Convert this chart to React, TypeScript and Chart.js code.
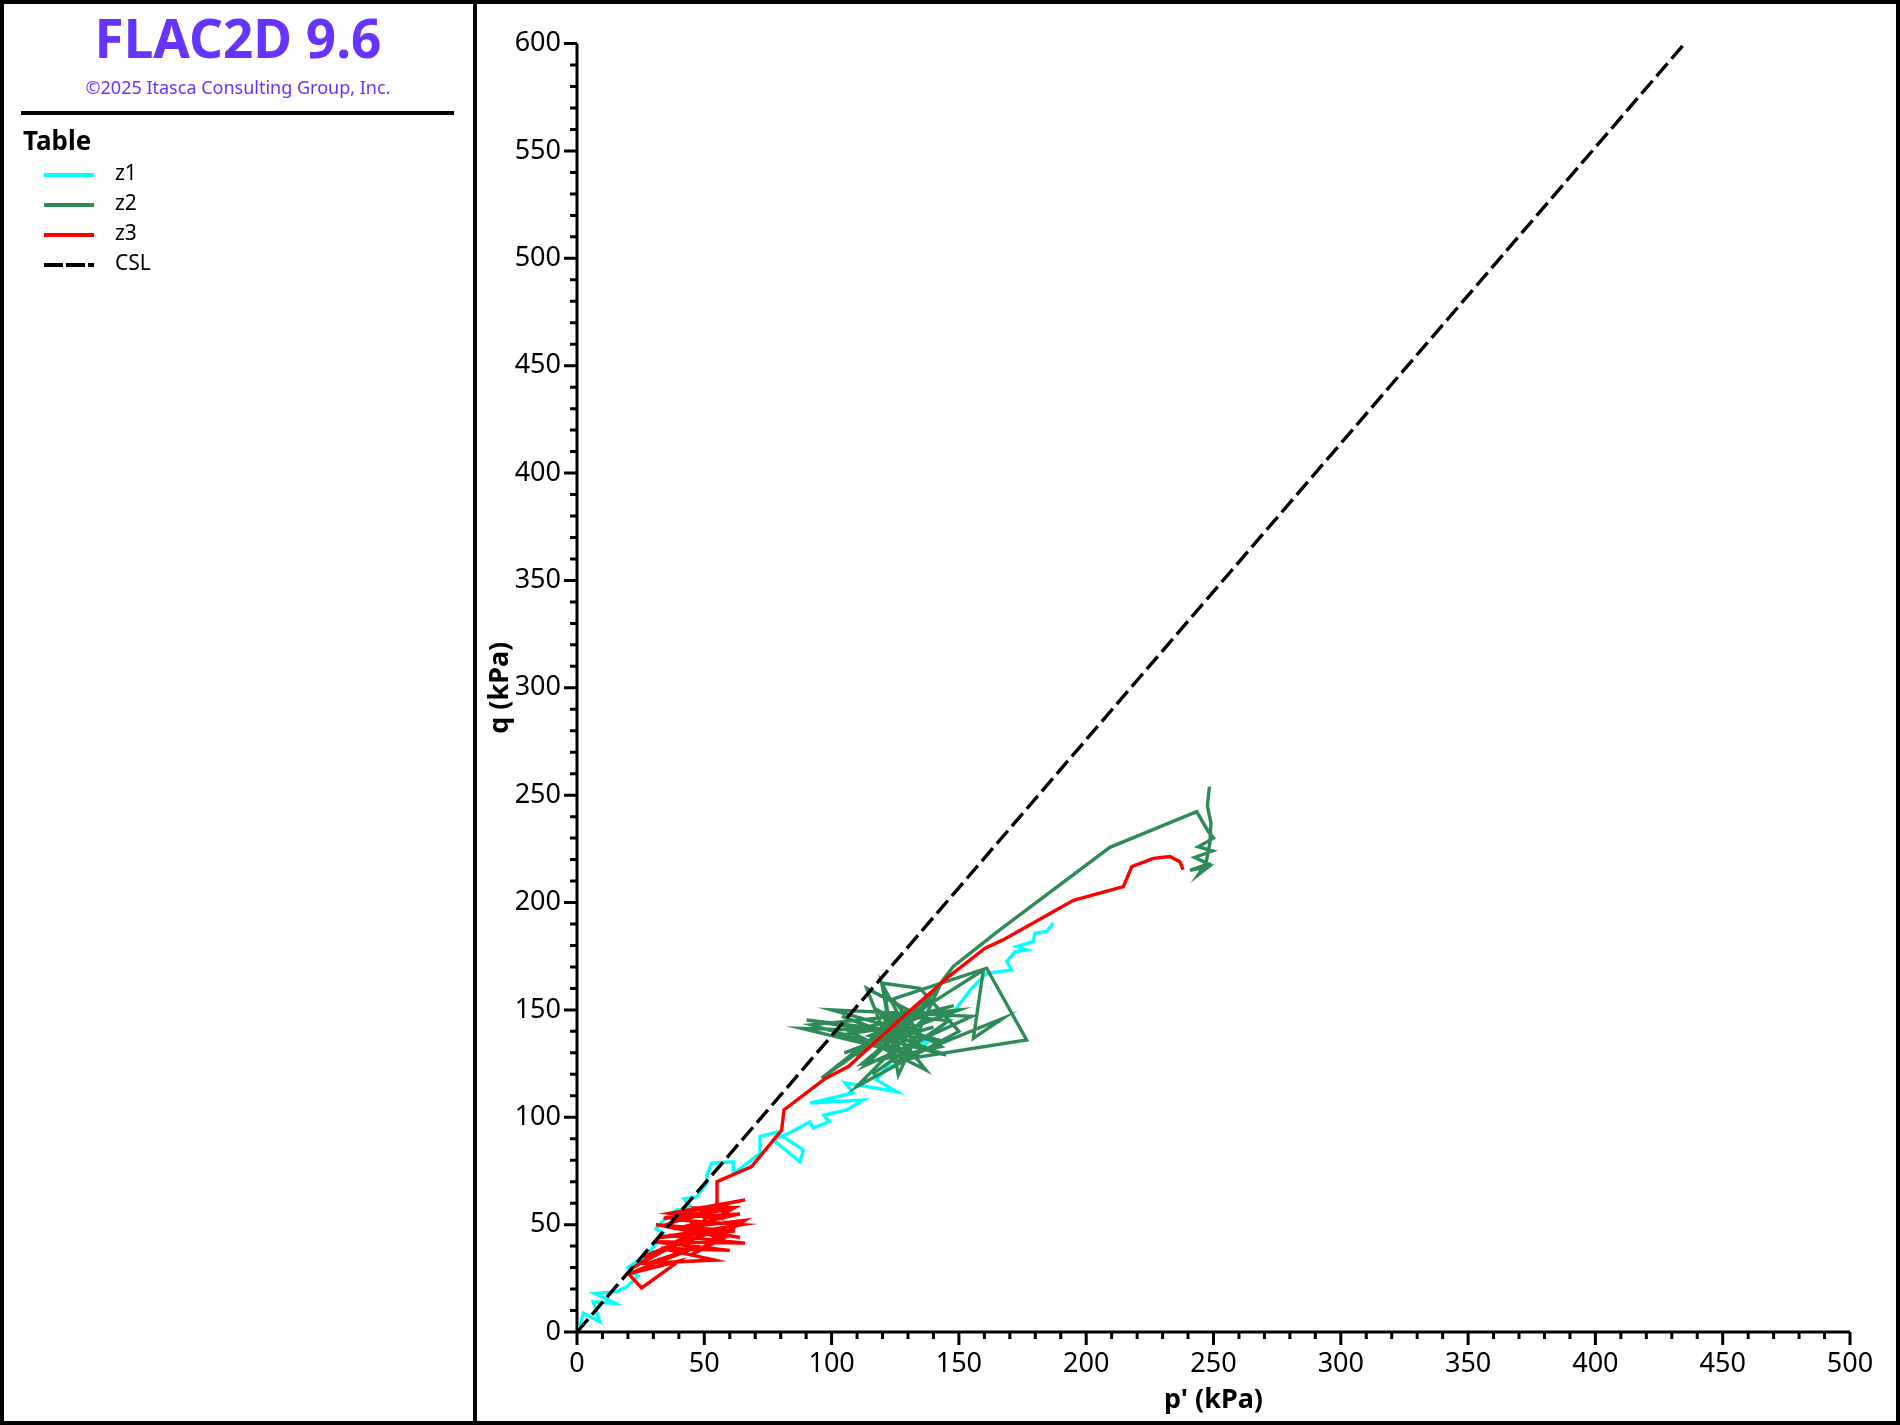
import React, { useEffect, useRef } from "react";
import { Chart, registerables } from "chart.js";
Chart.register(...registerables);

// ---- Data (p' , q in kPa) ----
const pTickValues = [0, 50, 100, 150, 200, 250, 300, 350, 400, 450, 500];
const qTickValues = [0, 50, 100, 150, 200, 250, 300, 350, 400, 450, 500, 550, 600];

const z1P = [1, 2.5, 9, 6.4, 14.9, 7, 15.6, 19.5, 24, 20, 30, 27, 34, 31, 36, 39, 45, 42, 47, 51, 51, 52.9, 61.4, 61.4, 71.9, 71.9, 78.4, 88.9, 87.6, 77.1, 84, 91.5, 92.7, 99, 97, 105.9, 112.3, 91.5, 108.4, 105.3, 125.6, 117.7, 121.6, 132, 138.6, 129.5, 142, 150.4, 155, 160.9, 166.1, 170.7, 168.8, 172, 176.6, 172.7, 179.2, 179.9, 184.5, 187.1];
const z1Q = [2, 8.7, 4.8, 14, 13.4, 18, 18.8, 21, 26, 30, 38, 35, 46, 48, 54.5, 56.8, 58, 62, 63, 69.3, 73, 78.6, 79.3, 73.7, 83.2, 91, 93, 84.8, 79.3, 89.4, 93, 97.9, 95, 98, 101, 103.4, 108, 106.6, 111.3, 116, 111.9, 117.4, 123, 128, 136, 132.9, 140, 153, 160, 167, 167.8, 168.6, 172.5, 177, 177.9, 179.5, 181.8, 185.7, 186.5, 190.4];

const z2P = [118, 140, 105, 150, 92, 135, 88.3, 128, 90.2, 145, 100, 155, 113, 140, 96.1, 130, 113.8, 125, 120.3, 134.7, 150, 109.9, 138, 115, 145, 104, 132, 119.7, 126.2, 142, 110, 125, 148, 107, 137, 118, 143, 112, 130, 102, 127, 121, 146, 116, 136, 124, 160.9, 176.6, 126.9, 167.4, 155.7, 159.6, 135, 122, 147.8, 165.8, 209.3, 243.4, 248, 250, 244, 249.6, 242.6, 248, 240.8, 248, 244, 247, 248.6, 249, 247.6, 248.4];
const z2Q = [135, 142, 130, 150, 143, 128, 141.4, 140, 145.3, 135, 150, 147, 124, 155, 118.2, 150, 160, 126, 162.4, 160, 140, 114.3, 148, 138, 129, 147, 135, 162.4, 119.7, 160, 128, 145, 152, 140, 122, 150, 133, 125, 143, 138, 131, 148, 145, 120, 137, 155, 169.4, 136, 126.7, 146.1, 136.8, 168.6, 150, 130, 170.2, 187, 225.7, 242.3, 233, 230, 226, 224, 221, 218, 215, 216.6, 212.9, 218, 228, 237, 245, 254];

const z3P = [19.5, 25.4, 40, 20, 48, 28, 54, 33, 60, 30, 66, 36, 62, 31, 58, 45, 66, 38, 64, 34, 60, 22, 44, 26, 52, 32, 65, 42, 60, 35, 64, 50, 57, 40, 66, 36.5, 55, 47, 62, 48, 55, 55, 68.6, 80.4, 81.3, 97.4, 106.6, 128.2, 146.5, 160.3, 167.3, 195, 214.6, 217.9, 226.4, 232.9, 236.8, 238.1];
const z3Q = [28, 20.5, 33, 27, 40, 32, 33.5, 39, 38, 42, 41.4, 45, 47, 50, 44, 36, 52, 48, 55, 53, 57, 30, 44, 35, 46, 44, 50, 52, 60, 50, 44, 47, 42, 55, 61.5, 55.3, 53, 57.8, 58, 49, 60, 70, 77, 94, 103.4, 118, 123.6, 146.9, 166, 178.7, 182.6, 201, 207.4, 216.7, 220.6, 221.4, 219, 215.2];

const cslP = [0, 435];
const cslQ = [0, 600];

const seriesNames = ["z1", "z2", "z3", "CSL"];
const seriesColors = ["#00FFFF", "#2E8B57", "#FF0000", "#000000"];

const toPoints = (ps: number[], qs: number[]) => ps.map((p, i) => ({ x: p, y: qs[i] }));

const FONT = "'Noto Sans', 'Open Sans', sans-serif";

const axesPlugin = {
  id: "flacAxes",
  beforeDatasetsDraw(chart: any) {
    const { ctx, chartArea, scales } = chart;
    const { left, right, top, bottom } = chartArea;
    const xs = scales.x;
    const ys = scales.y;
    ctx.save();
    ctx.strokeStyle = "#000";
    ctx.lineWidth = 3;
    ctx.lineCap = "butt";
    ctx.beginPath();
    ctx.moveTo(left, top);
    ctx.lineTo(left, bottom + 1.5);
    ctx.moveTo(left - 1.5, bottom);
    ctx.lineTo(right, bottom);
    for (let v = xs.min; v <= xs.max + 1e-6; v += 10) {
      const px = xs.getPixelForValue(v);
      const len = Math.abs(v % 50) < 1e-6 ? 13 : 7;
      ctx.moveTo(px, bottom);
      ctx.lineTo(px, bottom + len);
    }
    for (let v = ys.min; v <= ys.max + 1e-6; v += 10) {
      const py = ys.getPixelForValue(v);
      const len = Math.abs(v % 50) < 1e-6 ? 13 : 7;
      ctx.moveTo(left, py);
      ctx.lineTo(left - len, py);
    }
    ctx.stroke();
    ctx.restore();
  },
};

function PlotCanvas() {
  const ref = useRef<HTMLCanvasElement | null>(null);
  useEffect(() => {
    if (!ref.current) return;
    const lineDs = (i: number, ps: number[], qs: number[], order: number, dash: number[] = []) => ({
      label: seriesNames[i],
      data: toPoints(ps, qs),
      showLine: true,
      borderColor: seriesColors[i],
      backgroundColor: seriesColors[i],
      borderWidth: 3.4,
      borderDash: dash,
      pointRadius: 0,
      pointHoverRadius: 0,
      tension: 0,
      fill: false,
      order,
    });
    const chart = new Chart(ref.current, {
      type: "scatter",
      data: {
        datasets: [
          lineDs(0, z1P, z1Q, 4),
          lineDs(1, z2P, z2Q, 3),
          lineDs(2, z3P, z3Q, 2),
          lineDs(3, cslP, cslQ, 1, [17, 6]),
        ],
      },
      options: {
        responsive: false,
        animation: false,
        devicePixelRatio: 1,
        layout: { padding: { left: 480, top: 43.6, right: 50, bottom: 0 } },
        plugins: { legend: { display: false }, tooltip: { enabled: false }, title: { display: false } },
        scales: {
          x: {
            type: "linear",
            min: pTickValues[0],
            max: pTickValues[pTickValues.length - 1],
            afterBuildTicks: (s: any) => { s.ticks = pTickValues.map((v) => ({ value: v })); },
            afterFit: (s: any) => { s.height = 93; },
            grid: { display: false, drawTicks: true, tickLength: 13 },
            border: { display: false },
            ticks: { color: "#000", font: { family: FONT, size: 27 }, padding: 3, maxRotation: 0, autoSkip: false },
            title: { display: true, text: "p' (kPa)", color: "#000", font: { family: FONT, size: 27, weight: "bold" }, padding: { top: 0, bottom: 8 } },
          },
          y: {
            type: "linear",
            min: qTickValues[0],
            max: qTickValues[qTickValues.length - 1],
            afterBuildTicks: (s: any) => { s.ticks = qTickValues.map((v) => ({ value: v })); },
            afterFit: (s: any) => { s.width = 97; },
            grid: { display: false, drawTicks: true, tickLength: 13 },
            border: { display: false },
            ticks: { color: "#000", font: { family: FONT, size: 27 }, padding: 3, autoSkip: false },
            title: { display: true, text: "q (kPa)", color: "#000", font: { family: FONT, size: 27, weight: "bold" }, padding: { top: 4, bottom: 0 } },
          },
        },
      },
      plugins: [axesPlugin],
    } as any);
    return () => chart.destroy();
  }, []);
  return (
    <canvas
      ref={ref}
      width={1900}
      height={1425}
      style={{ position: "absolute", left: 0, top: 0, width: 1900, height: 1425 }}
    />
  );
}

const legendRows = [
  { name: "z1", color: seriesColors[0], dashed: false },
  { name: "z2", color: seriesColors[1], dashed: false },
  { name: "z3", color: seriesColors[2], dashed: false },
  { name: "CSL", color: seriesColors[3], dashed: true },
];

export default function App() {
  useEffect(() => {
    document.body.style.margin = "0";
  }, []);
  const purple = "#6633FF";
  return (
    <div style={{ position: "fixed", left: 0, top: 0, width: 1900, height: 1425, background: "#fff", overflow: "hidden", fontFamily: FONT }}>
      <PlotCanvas />
      {/* frame */}
      <div style={{ position: "absolute", left: 0, top: 0, width: 1900, height: 1425, boxSizing: "border-box", border: "4px solid #000", pointerEvents: "none" }} />
      <div style={{ position: "absolute", left: 473, top: 0, width: 4, height: 1425, background: "#000" }} />
      {/* left panel */}
      <div style={{ position: "absolute", left: 0, top: 11, width: 476, textAlign: "center", fontSize: 53, lineHeight: "53px", fontWeight: 700, color: purple, whiteSpace: "nowrap" }}>
        FLAC2D 9.6
      </div>
      <div style={{ position: "absolute", left: 0, top: 77.5, width: 476, textAlign: "center", fontSize: 18, lineHeight: "18px", color: purple, whiteSpace: "nowrap" }}>
        ©2025 Itasca Consulting Group, Inc.
      </div>
      <div style={{ position: "absolute", left: 21, top: 111, width: 433, height: 4, background: "#000" }} />
      <div style={{ position: "absolute", left: 23, top: 127, fontSize: 26, lineHeight: "26px", fontWeight: 700, color: "#000", whiteSpace: "nowrap" }}>
        Table
      </div>
      {legendRows.map((r, i) => (
        <React.Fragment key={r.name}>
          <div
            style={{
              position: "absolute",
              left: 44,
              top: 173 + i * 30,
              width: 50,
              height: 4,
              background: r.dashed
                ? "repeating-linear-gradient(to right, #000 0px, #000 19px, transparent 19px, transparent 22px)"
                : r.color,
            }}
          />
          <div style={{ position: "absolute", left: 115, top: 161.5 + i * 30, fontSize: 21, lineHeight: "21px", color: "#000", whiteSpace: "nowrap" }}>
            {r.name}
          </div>
        </React.Fragment>
      ))}
    </div>
  );
}
